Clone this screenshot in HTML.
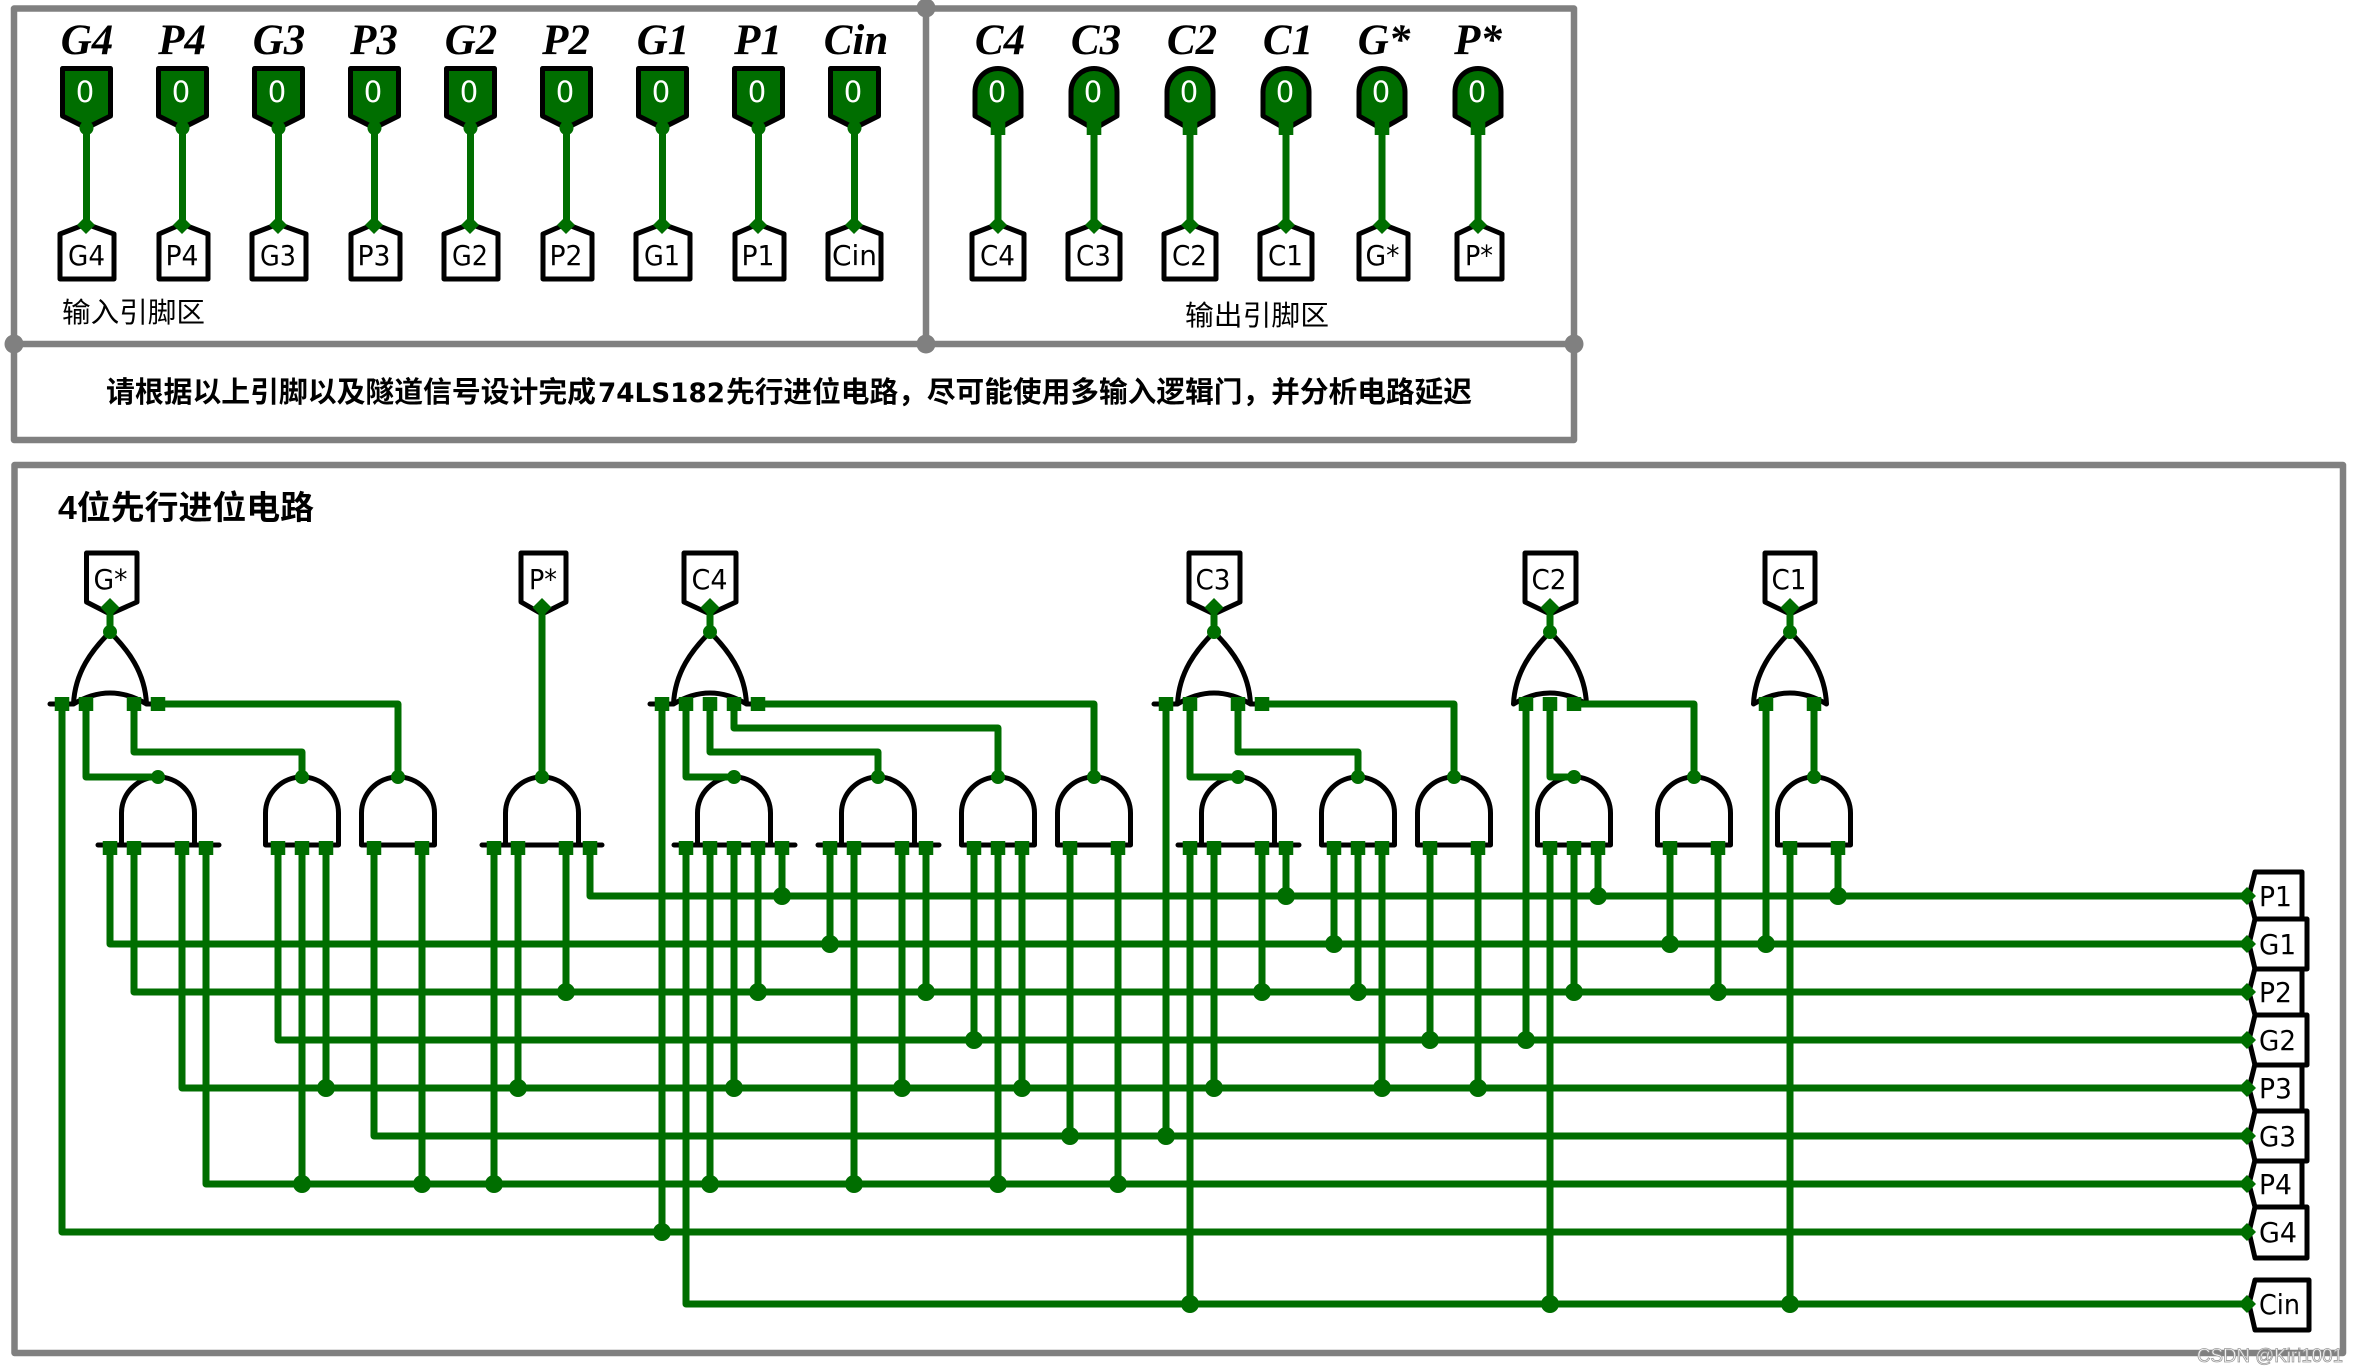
<!DOCTYPE html>
<html><head><meta charset="utf-8"><style>
html,body{margin:0;padding:0;background:#fff}
svg{display:block}
.t{font-family:"DejaVu Sans",sans-serif;font-size:28px;fill:#000;text-anchor:middle}
.r{font-family:"DejaVu Sans",sans-serif;font-size:27.500px;fill:#000}
.z{font-family:"DejaVu Sans",sans-serif;font-size:29px;fill:#fff;text-anchor:middle}
.h{font-family:"Liberation Serif",serif;font-weight:bold;font-style:italic;font-size:43px;fill:#000;text-anchor:middle}
.c{font-family:"Liberation Sans","Noto Sans CJK SC",sans-serif;fill:#000}
</style></head><body>
<svg width="2360" height="1372" viewBox="0 0 2360 1372" xmlns="http://www.w3.org/2000/svg">
<rect width="2360" height="1372" fill="#fff"/>
<!-- frames -->
<g fill="none" stroke="#808080" stroke-width="6.5" stroke-linejoin="round">
<path d="M14,8.500H1574V440H14ZM14,344H1574M926,8.500V344"/>
<path d="M14.500,465H2343V1353H14.500Z"/>
</g>
<g fill="#808080"><circle cx="14" cy="344" r="9.500"/><circle cx="926" cy="8" r="9.500"/><circle cx="926" cy="344" r="9.500"/><circle cx="1574" cy="344" r="9.500"/></g>
<!-- heading labels -->
<text class="h" x="87" y="54">G4</text><text class="h" x="182" y="54">P4</text><text class="h" x="279" y="54">G3</text><text class="h" x="374" y="54">P3</text><text class="h" x="471" y="54">G2</text><text class="h" x="566" y="54">P2</text><text class="h" x="663" y="54">G1</text><text class="h" x="758" y="54">P1</text><text class="h" x="856" y="54">Cin</text>
<text class="h" x="1000" y="54">C4</text><text class="h" x="1096" y="54">C3</text><text class="h" x="1192" y="54">C2</text><text class="h" x="1288" y="54">C1</text><text class="h" x="1384" y="54">G*</text><text class="h" x="1478" y="54">P*</text>
<!-- pins -->
<g fill="#006e00" stroke="#000" stroke-width="5" stroke-linejoin="round">
<path d="M62.500,68.500H110.500V116L86.500,128L62.500,116Z"/>
<path d="M158.500,68.500H206.500V116L182.500,128L158.500,116Z"/>
<path d="M254.500,68.500H302.500V116L278.500,128L254.500,116Z"/>
<path d="M350.500,68.500H398.500V116L374.500,128L350.500,116Z"/>
<path d="M446.500,68.500H494.500V116L470.500,128L446.500,116Z"/>
<path d="M542.500,68.500H590.500V116L566.500,128L542.500,116Z"/>
<path d="M638.500,68.500H686.500V116L662.500,128L638.500,116Z"/>
<path d="M734.500,68.500H782.500V116L758.500,128L734.500,116Z"/>
<path d="M830.500,68.500H878.500V116L854.500,128L830.500,116Z"/>
<path d="M975,116V92A23,23.500 0 0 1 1021,92V116L998,129Z"/>
<path d="M1071,116V92A23,23.500 0 0 1 1117,92V116L1094,129Z"/>
<path d="M1167,116V92A23,23.500 0 0 1 1213,92V116L1190,129Z"/>
<path d="M1263,116V92A23,23.500 0 0 1 1309,92V116L1286,129Z"/>
<path d="M1359,116V92A23,23.500 0 0 1 1405,92V116L1382,129Z"/>
<path d="M1455,116V92A23,23.500 0 0 1 1501,92V116L1478,129Z"/>
</g>
<text class="z" x="85" y="102">0</text><text class="z" x="181" y="102">0</text><text class="z" x="277" y="102">0</text><text class="z" x="373" y="102">0</text><text class="z" x="469" y="102">0</text><text class="z" x="565" y="102">0</text><text class="z" x="661" y="102">0</text><text class="z" x="757" y="102">0</text><text class="z" x="853" y="102">0</text>
<text class="z" x="997" y="102">0</text><text class="z" x="1093" y="102">0</text><text class="z" x="1189" y="102">0</text><text class="z" x="1285" y="102">0</text><text class="z" x="1381" y="102">0</text><text class="z" x="1477" y="102">0</text>
<!-- small tunnels row -->
<g fill="#fff" stroke="#000" stroke-width="5" stroke-linejoin="round">
<path d="M60,279V234L86,224L114,234V279Z"/>
<path d="M159,279V234L182,224L208,234V279Z"/>
<path d="M252,279V234L278,224L306,234V279Z"/>
<path d="M351,279V234L374,224L400,234V279Z"/>
<path d="M444,279V234L470,224L498,234V279Z"/>
<path d="M543,279V234L566,224L592,234V279Z"/>
<path d="M636,279V234L662,224L690,234V279Z"/>
<path d="M735,279V234L758,224L784,234V279Z"/>
<path d="M828,279V234L854,224L881,234V279Z"/>
<path d="M972,279V234L998,224L1024,234V279Z"/>
<path d="M1068,279V234L1094,224L1120,234V279Z"/>
<path d="M1164,279V234L1190,224L1216,234V279Z"/>
<path d="M1260,279V234L1286,224L1312,234V279Z"/>
<path d="M1359,279V234L1382,224L1408,234V279Z"/>
<path d="M1457,279V234L1478,224L1502,234V279Z"/>
</g>
<g lengthAdjust="spacingAndGlyphs">
<text class="t" x="86.500" y="265" textLength="37" lengthAdjust="spacingAndGlyphs">G4</text><text class="t" x="182" y="265" textLength="33" lengthAdjust="spacingAndGlyphs">P4</text><text class="t" x="278" y="265" textLength="36" lengthAdjust="spacingAndGlyphs">G3</text><text class="t" x="374" y="265" textLength="33" lengthAdjust="spacingAndGlyphs">P3</text><text class="t" x="470" y="265" textLength="36" lengthAdjust="spacingAndGlyphs">G2</text><text class="t" x="566" y="265" textLength="33" lengthAdjust="spacingAndGlyphs">P2</text><text class="t" x="662" y="265" textLength="36" lengthAdjust="spacingAndGlyphs">G1</text><text class="t" x="758" y="265" textLength="33" lengthAdjust="spacingAndGlyphs">P1</text><text class="t" x="854.500" y="265" textLength="45" lengthAdjust="spacingAndGlyphs">Cin</text>
<text class="t" x="997.500" y="265" textLength="35" lengthAdjust="spacingAndGlyphs">C4</text><text class="t" x="1093.500" y="265" textLength="35" lengthAdjust="spacingAndGlyphs">C3</text><text class="t" x="1189.500" y="265" textLength="35" lengthAdjust="spacingAndGlyphs">C2</text><text class="t" x="1285.500" y="265" textLength="35" lengthAdjust="spacingAndGlyphs">C1</text><text class="t" x="1382.500" y="265" textLength="34" lengthAdjust="spacingAndGlyphs">G*</text><text class="t" x="1479" y="265" textLength="28" lengthAdjust="spacingAndGlyphs">P*</text>
</g>
<!-- upper wires -->
<g fill="none" stroke="#006e00" stroke-width="7">
<path d="M86.500,128V225M182.500,128V225M278.500,128V225M374.500,128V225M470.500,128V225M566.500,128V225M662.500,128V225M758.500,128V225M854.500,128V225M998,128V225M1094,128V225M1190,128V225M1286,128V225M1382,128V225M1478,128V225"/>
</g>
<g fill="#006e00">
<circle cx="86.500" cy="128" r="7"/><circle cx="182.500" cy="128" r="7"/><circle cx="278.500" cy="128" r="7"/><circle cx="374.500" cy="128" r="7"/><circle cx="470.500" cy="128" r="7"/><circle cx="566.500" cy="128" r="7"/><circle cx="662.500" cy="128" r="7"/><circle cx="758.500" cy="128" r="7"/><circle cx="854.500" cy="128" r="7"/>
<rect x="990.700" y="122" width="14.600" height="13"/><rect x="1086.700" y="122" width="14.600" height="13"/><rect x="1182.700" y="122" width="14.600" height="13"/><rect x="1278.700" y="122" width="14.600" height="13"/><rect x="1374.700" y="122" width="14.600" height="13"/><rect x="1470.700" y="122" width="14.600" height="13"/>
<path d="M86,216l9,9l-9,9l-9,-9ZM182,216l9,9l-9,9l-9,-9ZM278,216l9,9l-9,9l-9,-9ZM374,216l9,9l-9,9l-9,-9ZM470,216l9,9l-9,9l-9,-9ZM566,216l9,9l-9,9l-9,-9ZM662,216l9,9l-9,9l-9,-9ZM758,216l9,9l-9,9l-9,-9ZM854,216l9,9l-9,9l-9,-9ZM998,216l9,9l-9,9l-9,-9ZM1094,216l9,9l-9,9l-9,-9ZM1190,216l9,9l-9,9l-9,-9ZM1286,216l9,9l-9,9l-9,-9ZM1382,216l9,9l-9,9l-9,-9ZM1478,216l9,9l-9,9l-9,-9Z"/>
</g>
<!-- captions -->
<text class="c" x="62" y="322" font-size="28" textLength="143" lengthAdjust="spacingAndGlyphs">输入引脚区</text>
<text class="c" x="1185" y="325" font-size="28" textLength="144" lengthAdjust="spacingAndGlyphs">输出引脚区</text>
<text class="c" x="106" y="402" font-size="28.800" font-weight="bold" textLength="490" lengthAdjust="spacingAndGlyphs">请根据以上引脚以及隧道信号设计完成</text>
<text x="598" y="402" font-family="'DejaVu Sans',sans-serif" font-size="26.500" font-weight="bold" textLength="127" lengthAdjust="spacingAndGlyphs">74LS182</text>
<text class="c" x="726" y="402" font-size="28.800" font-weight="bold" textLength="746" lengthAdjust="spacingAndGlyphs">先行进位电路，尽可能使用多输入逻辑门，并分析电路延迟</text>
<text class="c" x="58" y="519" font-size="33" font-weight="bold" textLength="256" lengthAdjust="spacingAndGlyphs">4位先行进位电路</text>
<!-- top output tags -->
<g fill="#fff" stroke="#000" stroke-width="5" stroke-linejoin="round">
<path d="M86.500,553H137V602L110,614L86.500,602Z"/>
<path d="M521,553H566V602L542,614L521,602Z"/>
<path d="M684,553H736V602L710,614L684,602Z"/>
<path d="M1189,553H1240V602L1214,614L1189,602Z"/>
<path d="M1525,553H1576V602L1550,614L1525,602Z"/>
<path d="M1765,553H1815V602L1790,614L1765,602Z"/>
</g>
<text class="t" x="110.500" y="589" textLength="34" lengthAdjust="spacingAndGlyphs">G*</text><text class="t" x="543" y="589" textLength="28" lengthAdjust="spacingAndGlyphs">P*</text><text class="t" x="709.500" y="589" textLength="36" lengthAdjust="spacingAndGlyphs">C4</text><text class="t" x="1213" y="589" textLength="35" lengthAdjust="spacingAndGlyphs">C3</text><text class="t" x="1549" y="589" textLength="35" lengthAdjust="spacingAndGlyphs">C2</text><text class="t" x="1789" y="589" textLength="35" lengthAdjust="spacingAndGlyphs">C1</text>
<!-- OR gates -->
<g fill="none" stroke="#000" stroke-width="5" stroke-linecap="round" stroke-linejoin="round">
<path d="M73.500,704C75,672 92,650 110,632C128,650 145,672 146.500,704M73.500,704Q110,682 146.500,704M50,704H73.500M146.500,704H171"/>
<path d="M673.500,704C675,672 692,650 710,632C728,650 745,672 746.500,704M673.500,704Q710,682 746.500,704M650,704H673.500M746.500,704H771"/>
<path d="M1177.500,704C1179,672 1196,650 1214,632C1232,650 1249,672 1250.500,704M1177.500,704Q1214,682 1250.500,704M1154,704H1177.500M1250.500,704H1275"/>
<path d="M1513.500,704C1515,672 1532,650 1550,632C1568,650 1585,672 1586.500,704M1513.500,704Q1550,682 1586.500,704"/>
<path d="M1753.500,704C1755,672 1772,650 1790,632C1808,650 1825,672 1826.500,704M1753.500,704Q1790,682 1826.500,704"/>
</g>
<!-- AND gates -->
<g fill="none" stroke="#000" stroke-width="5" stroke-linecap="round" stroke-linejoin="round">
<path d="M121.500,845V813A36.500,36 0 0 1 194.500,813V845M98,845H219"/>
<path d="M265.500,845V813A36.500,36 0 0 1 338.500,813V845Z"/>
<path d="M361.500,845V813A36.500,36 0 0 1 434.500,813V845Z"/>
<path d="M505.500,845V813A36.500,36 0 0 1 578.500,813V845M482,845H602"/>
<path d="M697.500,845V813A36.500,36 0 0 1 770.500,813V845M674,845H795"/>
<path d="M841.500,845V813A36.500,36 0 0 1 914.500,813V845M818,845H939"/>
<path d="M961.500,845V813A36.500,36 0 0 1 1034.500,813V845Z"/>
<path d="M1057.500,845V813A36.500,36 0 0 1 1130.500,813V845Z"/>
<path d="M1201.500,845V813A36.500,36 0 0 1 1274.500,813V845M1178,845H1299"/>
<path d="M1321.500,845V813A36.500,36 0 0 1 1394.500,813V845Z"/>
<path d="M1417.500,845V813A36.500,36 0 0 1 1490.500,813V845Z"/>
<path d="M1537.500,845V813A36.500,36 0 0 1 1610.500,813V845Z"/>
<path d="M1657.500,845V813A36.500,36 0 0 1 1730.500,813V845Z"/>
<path d="M1777.500,845V813A36.500,36 0 0 1 1850.500,813V845Z"/>
</g>
<!-- right tags -->
<g fill="#fff" stroke="#000" stroke-width="5" stroke-linejoin="round">
<path d="M2255,872H2302V919H2255L2249,896Z"/>
<path d="M2255,968H2302V1015H2255L2249,992Z"/>
<path d="M2255,1064H2302V1111H2255L2249,1088Z"/>
<path d="M2255,1160H2302V1207H2255L2249,1184Z"/>
<path d="M2255,919H2307V969H2255L2249,944Z"/>
<path d="M2255,1015H2307V1065H2255L2249,1040Z"/>
<path d="M2255,1111H2307V1161H2255L2249,1136Z"/>
<path d="M2255,1207H2307V1258H2255L2249,1232Z"/>
<path d="M2255,1280H2309V1330H2255L2249,1304Z"/>
</g>
<text class="r" x="2259" y="906" textLength="33" lengthAdjust="spacingAndGlyphs">P1</text><text class="r" x="2259" y="954" textLength="37" lengthAdjust="spacingAndGlyphs">G1</text><text class="r" x="2259" y="1002" textLength="33" lengthAdjust="spacingAndGlyphs">P2</text><text class="r" x="2259" y="1050" textLength="37" lengthAdjust="spacingAndGlyphs">G2</text><text class="r" x="2259" y="1098" textLength="33" lengthAdjust="spacingAndGlyphs">P3</text><text class="r" x="2259" y="1146" textLength="37" lengthAdjust="spacingAndGlyphs">G3</text><text class="r" x="2259" y="1194" textLength="33" lengthAdjust="spacingAndGlyphs">P4</text><text class="r" x="2259" y="1242" textLength="38" lengthAdjust="spacingAndGlyphs">G4</text><text class="r" x="2259" y="1314" textLength="41" lengthAdjust="spacingAndGlyphs">Cin</text>
<!-- circuit wires -->
<g fill="none" stroke="#006e00" stroke-width="7" stroke-linejoin="round">
<path d="M590,845V896H2247M110,845V944H2247M134,845V992H2247M278,845V1040H2247M182,845V1088H2247M374,845V1136H2247M206,845V1184H2247M62,704V1232H2247M686,845V1304H2247"/>
<path d="M302,845V1184M326,845V1088M422,845V1184M494,845V1184M518,845V1088M566,845V992"/>
<path d="M662,704V1232M710,845V1184M734,845V1088M758,845V992M782,845V896"/>
<path d="M830,845V944M854,845V1184M902,845V1088M926,845V992M974,845V1040M998,845V1184M1022,845V1088M1070,845V1136M1118,845V1184"/>
<path d="M1166,704V1136M1190,845V1304M1214,845V1088M1262,845V992M1286,845V896M1334,845V944M1358,845V992M1382,845V1088M1430,845V1040M1478,845V1088"/>
<path d="M1526,704V1040M1550,845V1304M1574,845V992M1598,845V896M1670,845V944M1718,845V992M1766,704V944M1790,845V1304M1838,845V896"/>
<path d="M110,607V632M542,607V777M710,607V632M1214,607V632M1550,607V632M1790,607V632"/>
<path d="M86,704V777H158M134,704V752H302V777M158,704H398V777"/>
<path d="M686,704V777H734M710,704V752H878V777M734,704V728H998V777M758,704H1094V777"/>
<path d="M1190,704V777H1238M1238,704V752H1358V777M1262,704H1454V777"/>
<path d="M1550,704V777H1574M1574,704H1694V777M1814,704V777"/>
</g>
<!-- pin squares -->
<path fill="none" stroke="#006e00" stroke-width="14.500" d="M110,841V855M134,841V855M182,841V855M206,841V855M278,841V855M302,841V855M326,841V855M374,841V855M422,841V855M494,841V855M518,841V855M566,841V855M590,841V855M686,841V855M710,841V855M734,841V855M758,841V855M782,841V855M830,841V855M854,841V855M902,841V855M926,841V855M974,841V855M998,841V855M1022,841V855M1070,841V855M1118,841V855M1190,841V855M1214,841V855M1262,841V855M1286,841V855M1334,841V855M1358,841V855M1382,841V855M1430,841V855M1478,841V855M1550,841V855M1574,841V855M1598,841V855M1670,841V855M1718,841V855M1790,841V855M1838,841V855M62,697V711M86,697V711M134,697V711M158,697V711M662,697V711M686,697V711M710,697V711M734,697V711M758,697V711M1166,697V711M1190,697V711M1238,697V711M1262,697V711M1526,697V711M1550,697V711M1574,697V711M1766,697V711M1814,697V711"/>
<!-- diamonds -->
<path fill="#006e00" d="M110,598l9.500,9.500l-9.500,9.500l-9.500,-9.500ZM542,598l9.500,9.500l-9.500,9.500l-9.500,-9.500ZM710,598l9.500,9.500l-9.500,9.500l-9.500,-9.500ZM1214,598l9.500,9.500l-9.500,9.500l-9.500,-9.500ZM1550,598l9.500,9.500l-9.500,9.500l-9.500,-9.500ZM1790,598l9.500,9.500l-9.500,9.500l-9.500,-9.500ZM2247,887l9,9l-9,9l-9,-9ZM2247,935l9,9l-9,9l-9,-9ZM2247,983l9,9l-9,9l-9,-9ZM2247,1031l9,9l-9,9l-9,-9ZM2247,1079l9,9l-9,9l-9,-9ZM2247,1127l9,9l-9,9l-9,-9ZM2247,1175l9,9l-9,9l-9,-9ZM2247,1223l9,9l-9,9l-9,-9ZM2247,1295l9,9l-9,9l-9,-9Z"/>
<!-- gate outputs -->
<g fill="#006e00">
<circle cx="110" cy="632" r="7"/><circle cx="710" cy="632" r="7"/><circle cx="1214" cy="632" r="7"/><circle cx="1550" cy="632" r="7"/><circle cx="1790" cy="632" r="7"/>
<circle cx="158" cy="777" r="7"/><circle cx="302" cy="777" r="7"/><circle cx="398" cy="777" r="7"/><circle cx="542" cy="777" r="7"/><circle cx="734" cy="777" r="7"/><circle cx="878" cy="777" r="7"/><circle cx="998" cy="777" r="7"/><circle cx="1094" cy="777" r="7"/><circle cx="1238" cy="777" r="7"/><circle cx="1358" cy="777" r="7"/><circle cx="1454" cy="777" r="7"/><circle cx="1574" cy="777" r="7"/><circle cx="1694" cy="777" r="7"/><circle cx="1814" cy="777" r="7"/>
</g>
<!-- joints -->
<g fill="#006e00">
<circle cx="782" cy="896" r="9"/><circle cx="1286" cy="896" r="9"/><circle cx="1598" cy="896" r="9"/><circle cx="1838" cy="896" r="9"/>
<circle cx="830" cy="944" r="9"/><circle cx="1334" cy="944" r="9"/><circle cx="1670" cy="944" r="9"/><circle cx="1766" cy="944" r="9"/>
<circle cx="566" cy="992" r="9"/><circle cx="758" cy="992" r="9"/><circle cx="926" cy="992" r="9"/><circle cx="1262" cy="992" r="9"/><circle cx="1358" cy="992" r="9"/><circle cx="1574" cy="992" r="9"/><circle cx="1718" cy="992" r="9"/>
<circle cx="974" cy="1040" r="9"/><circle cx="1430" cy="1040" r="9"/><circle cx="1526" cy="1040" r="9"/>
<circle cx="326" cy="1088" r="9"/><circle cx="518" cy="1088" r="9"/><circle cx="734" cy="1088" r="9"/><circle cx="902" cy="1088" r="9"/><circle cx="1022" cy="1088" r="9"/><circle cx="1214" cy="1088" r="9"/><circle cx="1382" cy="1088" r="9"/><circle cx="1478" cy="1088" r="9"/>
<circle cx="1070" cy="1136" r="9"/><circle cx="1166" cy="1136" r="9"/>
<circle cx="302" cy="1184" r="9"/><circle cx="422" cy="1184" r="9"/><circle cx="494" cy="1184" r="9"/><circle cx="710" cy="1184" r="9"/><circle cx="854" cy="1184" r="9"/><circle cx="998" cy="1184" r="9"/><circle cx="1118" cy="1184" r="9"/>
<circle cx="662" cy="1232" r="9"/>
<circle cx="1190" cy="1304" r="9"/><circle cx="1550" cy="1304" r="9"/><circle cx="1790" cy="1304" r="9"/>
</g>
<!-- watermark -->
<text x="2197" y="1362" font-family="'Liberation Sans',sans-serif" font-size="19" fill="#fff" stroke="#999" stroke-width="0.8" textLength="146" lengthAdjust="spacingAndGlyphs">CSDN @Kiri1001</text>
</svg>
</body></html>
